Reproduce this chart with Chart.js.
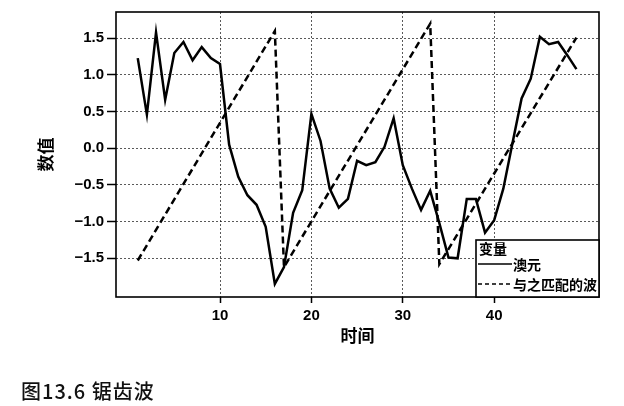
<!DOCTYPE html>
<html>
<head>
<meta charset="utf-8">
<script src="https://cdn.jsdelivr.net/npm/chart.js@4/dist/chart.umd.min.js"></script>
<style>
  body { margin: 0; background: #fff; }
  #wrap { position: relative; width: 624px; height: 406px; }
  #caption { position: absolute; left: 21px; top: 381px; font: 500 20px/20px "Noto Sans CJK SC"; letter-spacing: 1px; color: #111; }
</style>
</head>
<body>
<div id="wrap">
  <canvas id="chart"></canvas>
  <div id="caption">图13.6 锯齿波</div>
</div>
<script>
// Time index and the Australian dollar series
const times = [1, 2, 3, 4, 5, 6, 7, 8, 9, 10, 11, 12, 13, 14, 15, 16, 17, 18, 19, 20,
  21, 22, 23, 24, 25, 26, 27, 28, 29, 30, 31, 32, 33, 34, 35, 36, 37, 38, 39, 40,
  41, 42, 43, 44, 45, 46, 47, 48, 49];
const audValues = [1.23, 0.46, 1.58, 0.66, 1.30, 1.45, 1.20, 1.38, 1.23, 1.15,
  0.05, -0.39, -0.64, -0.77, -1.07, -1.85, -1.62, -0.88, -0.57, 0.47,
  0.10, -0.55, -0.81, -0.69, -0.17, -0.23, -0.19, 0.02, 0.41, -0.23,
  -0.55, -0.84, -0.58, -1.02, -1.49, -1.50, -0.69, -0.69, -1.15, -0.98,
  -0.55, 0.07, 0.68, 0.95, 1.52, 1.42, 1.45, 1.27, 1.08];

// Corners of the matched sawtooth wave
const waveTimes = [1, 16, 17, 33, 34, 49];
const waveValues = [-1.53, 1.60, -1.62, 1.70, -1.58, 1.51];

const xTicks = [10, 20, 30, 40];
const yTicks = [-1.5, -1.0, -0.5, 0.0, 0.5, 1.0, 1.5];
const legendTitle = '变量';

const tickFont = { family: '"Liberation Sans", Arial, sans-serif', size: 15, weight: 'bold' };
const titleFont = { family: '"Noto Sans CJK SC", sans-serif', size: 17, weight: 'bold' };

// frame round the plot + boxed legend in the lower right corner
const boxLegend = {
  id: 'boxLegend',
  afterDraw(chart) {
    const { ctx, chartArea: a } = chart;
    ctx.save();
    ctx.strokeStyle = '#000';
    ctx.lineWidth = 1.6;
    ctx.strokeRect(a.left, a.top, a.right - a.left, a.bottom - a.top);

    const w = 123, h = 57;
    const x = a.right - w, y = a.bottom - h;
    ctx.fillStyle = '#fff';
    ctx.fillRect(x, y, w, h);
    ctx.strokeRect(x, y, w, h);

    ctx.fillStyle = '#000';
    ctx.font = 'bold 14px "Noto Sans CJK SC"';
    ctx.textBaseline = 'middle';
    ctx.fillText(legendTitle, x + 3, y + 9);
    chart.data.datasets.forEach((ds, i) => {
      const ly = y + 24 + i * 20;
      ctx.beginPath();
      ctx.lineWidth = 1.5;
      ctx.setLineDash(i ? [4, 3] : []);
      ctx.moveTo(x + 2, ly);
      ctx.lineTo(x + 36, ly);
      ctx.stroke();
      ctx.setLineDash([]);
      ctx.fillText(ds.label, x + 37, ly + 1);
    });
    ctx.restore();
  }
};

new Chart(document.getElementById('chart'), {
  type: 'line',
  data: {
    datasets: [{
      label: '澳元',
      data: times.map((t, i) => ({ x: t, y: audValues[i] })),
      borderColor: '#000',
      borderWidth: 2.5,
      pointRadius: 0,
      tension: 0
    }, {
      label: '与之匹配的波',
      data: waveTimes.map((t, i) => ({ x: t, y: waveValues[i] })),
      borderColor: '#000',
      borderWidth: 2.5,
      borderDash: [7, 4],
      pointRadius: 0,
      tension: 0
    }]
  },
  options: {
    responsive: true,
    maintainAspectRatio: false,
    animation: false,
    layout: { padding: { left: 35, right: 25, top: 12, bottom: 60 } },
    plugins: { legend: { display: false }, tooltip: { enabled: false } },
    scales: {
      x: {
        type: 'linear',
        min: -1.38,
        max: 51.47,
        afterBuildTicks: s => { s.ticks = xTicks.map(v => ({ value: v })); },
        afterFit: s => { s.height = 49; },
        ticks: { color: '#000', font: tickFont, padding: 4, maxRotation: 0 },
        grid: { color: 'rgba(0,0,0,0.65)', lineWidth: 1, tickLength: 6, tickColor: '#000', tickWidth: 1.5, tickBorderDash: [] },
        border: { display: false, dash: [2, 2] },
        title: { display: true, text: '时间', color: '#000', font: titleFont, padding: 0 }
      },
      y: {
        min: -2.028,
        max: 1.859,
        afterBuildTicks: s => { s.ticks = yTicks.map(v => ({ value: v })); },
        afterFit: s => { s.width = 81; },
        ticks: {
          color: '#000',
          font: tickFont,
          padding: 3,
          callback: v => (v < 0 ? '\u2212' : '') + Math.abs(v).toFixed(1)
        },
        grid: { color: 'rgba(0,0,0,0.65)', lineWidth: 1, tickLength: 9, tickColor: '#000', tickWidth: 1.5, tickBorderDash: [] },
        border: { display: false, dash: [2, 2] },
        title: { display: true, text: '数值', color: '#000', font: titleFont, padding: 0 }
      }
    }
  },
  plugins: [boxLegend]
});
</script>
</body>
</html>
